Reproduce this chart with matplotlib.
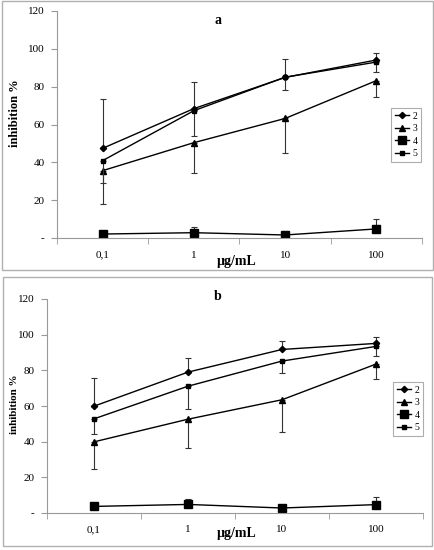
import numpy as np
import matplotlib
matplotlib.use("Agg")
import matplotlib.pyplot as plt
from matplotlib.patches import Rectangle

plt.rcParams['font.family'] = ['Liberation Serif', 'DejaVu Serif']

doses = ['0,1', '1', '10', '100']
series = ['2', '3', '4', '5']
yticks = [0, 20, 40, 60, 80, 100, 120]
ytick_labels = ['-', '20', '40', '60', '80', '100', '120']

# panel a
a_vals = {
    '2': [47.4, 68.4, 84.9, 94.1],
    '3': [35.6, 50.4, 63.2, 83.2],
    '4': [2.1, 2.8, 1.6, 4.8],
    '5': [40.9, 67.3, 85.0, 93.0],
}
a_err_lo = {
    '2': [0, 0, 0, 0],
    '3': [17.6, 16.0, 18.1, 8.5],
    '4': [0, 0, 0, 0],
    '5': [11.7, 13.2, 6.8, 5.1],
}
a_err_hi = {
    '2': [26.1, 14.2, 9.5, 3.8],
    '3': [0, 0, 0, 0],
    '4': [1.6, 3.2, 1.9, 5.1],
    '5': [0, 0, 0, 0],
}

# panel b
b_vals = {
    '2': [59.9, 79.0, 91.7, 95.1],
    '3': [39.9, 52.6, 63.5, 83.5],
    '4': [3.7, 4.8, 2.8, 4.7],
    '5': [52.8, 71.1, 85.2, 93.4],
}
b_err_lo = {
    '2': [0, 0, 0, 0],
    '3': [15.4, 16.3, 18.2, 8.6],
    '4': [0, 0, 0, 0],
    '5': [8.3, 12.9, 6.8, 5.4],
}
b_err_hi = {
    '2': [15.9, 7.7, 4.7, 3.6],
    '3': [0, 0, 0, 0],
    '4': [0, 3.1, 0, 4.5],
    '5': [0, 0, 0, 0],
}

markers = {'2': ('D', 3.2), '3': ('^', 3.8), '4': ('s', 5.2), '5': ('s', 3.2)}

W, H = 435, 550
fig = plt.figure(figsize=(W / 100, H / 100), dpi=100)

def px_rect(x0, y0, x1, y1):
    # pixel box (top-left origin) -> figure fraction
    return [x0 / W, 1 - y1 / H, (x1 - x0) / W, (y1 - y0) / H]

def ftext(x, y, s, **kw):
    fig.text(x / W, 1 - y / H, s, ha='center', va='center', **kw)

def panel(rect, box, title, vals, lo, hi, leg_box, title_xy, xlab_xy, ylab_xy, ylab_size):
    fig.patches.append(Rectangle((box[0] / W, 1 - box[3] / H),
                                 (box[2] - box[0]) / W, (box[3] - box[1]) / H,
                                 transform=fig.transFigure, fill=False,
                                 edgecolor='#b0b0b0', lw=1.0))
    ax = fig.add_axes(px_rect(*rect))
    x = np.arange(len(doses))
    for s in series:
        m, ms = markers[s]
        ax.errorbar(x, vals[s], yerr=[lo[s], hi[s]], fmt='none', ecolor='#333333',
                    elinewidth=0.8, capsize=2.5, capthick=0.8)
        ax.plot(x, vals[s], color='black', lw=1.0, marker=m, ms=ms, label=s)
    ax.set_xlim(-0.5, len(doses) - 0.5)
    ax.set_ylim(0, 120)
    ax.set_yticks(yticks)
    ax.set_yticklabels(ytick_labels, fontsize=8)
    ax.set_xticks(x)
    ax.set_xticklabels(doses, fontsize=8)
    ax.set_xticks(np.arange(-0.5, len(doses)), minor=True)
    ax.tick_params(axis='x', which='major', length=0, pad=9)
    ax.tick_params(axis='x', which='minor', length=4, color='#999999', direction='out')
    ax.tick_params(axis='y', length=4, color='#999999', direction='out', pad=5)
    for sp in ['top', 'right']:
        ax.spines[sp].set_visible(False)
    for sp in ['left', 'bottom']:
        ax.spines[sp].set_color('#999999')
        ax.spines[sp].set_linewidth(0.8)
    ftext(*title_xy, title, fontsize=10, fontweight='bold')
    ftext(*xlab_xy, '\u00b5g/mL', fontsize=10, fontweight='bold')
    ftext(*ylab_xy, 'inhibition %', fontsize=ylab_size, fontweight='bold', rotation=90)
    lx0, ly0, lx1, ly1 = leg_box
    leg = ax.legend(loc='upper left',
                    bbox_to_anchor=(lx0 / W, 1 - ly0 / H),
                    bbox_transform=fig.transFigure, fontsize=7,
                    frameon=True, fancybox=False, handlelength=1.5,
                    handletextpad=0.3, borderpad=0.4, labelspacing=0.35,
                    borderaxespad=0)
    leg.get_frame().set_edgecolor('#999999')
    leg.get_frame().set_linewidth(0.8)
    return ax

panel((57, 11, 422, 238), (2, 1, 433, 270), 'a', a_vals, a_err_lo, a_err_hi,
      (391, 108, 419, 163), (218, 20), (237, 262), (15, 113), 9)
panel((47, 299, 423, 513), (3, 277, 432, 546), 'b', b_vals, b_err_lo, b_err_hi,
      (393, 382, 419, 438), (218, 296), (237, 533), (15, 404), 8)

fig.savefig('out.png', dpi=100)
